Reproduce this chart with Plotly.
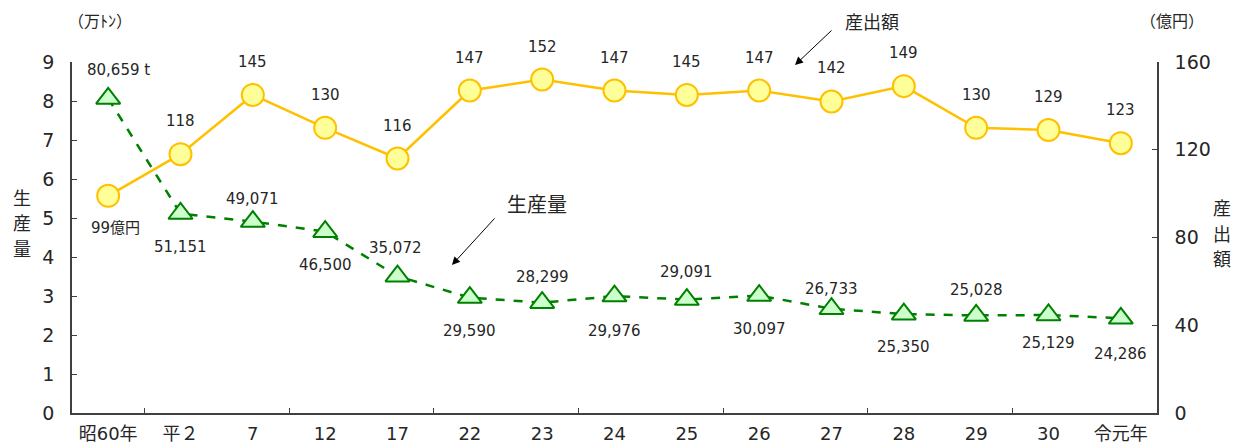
import plotly.graph_objects as go

categories = ["昭60年", "平２", "7", "12", "17", "22", "23", "24", "25", "26", "27", "28", "29", "30", "令元年"]
production_t = [80659, 51151, 49071, 46500, 35072, 29590, 28299, 29976, 29091, 30097, 26733, 25350, 25028, 25129, 24286]
output_oku = [99, 118, 145, 130, 116, 147, 152, 147, 145, 147, 142, 149, 130, 129, 123]
prod_labels = ["80,659 t", "51,151", "49,071", "46,500", "35,072", "29,590", "28,299", "29,976",
               "29,091", "30,097", "26,733", "25,350", "25,028", "25,129", "24,286"]
out_labels = ["99億円"] + [str(v) for v in output_oku[1:]]
left_title = "生産量"
right_title = "産出額"
# label offsets (pixels) for production labels: + above, - below
prod_shift = [28, -33, 23, -33, 28, -33, 26, -35, 28, -33, 20, -33, 25, -28, -36]
prod_xshift = [10, 0, 0, 0, -2, 0, 0, 0, 0, 0, 0, 0, 0, 0, 0]
out_shift = [-32] + [33] * 14
out_xshift = [7] + [0] * 14

FONT = "DejaVu Sans, Noto Sans CJK JP"
CJK = "Noto Sans CJK JP"
TXT = "#262626"
AX = "#404040"

x = list(range(len(categories)))
prod_man = [v / 10000 for v in production_t]

fig = go.Figure()
fig.add_trace(go.Scatter(
    x=x, y=prod_man, mode="lines+markers", xaxis="x", yaxis="y",
    line=dict(color="#008000", width=2.5, dash="dash"),
    marker=dict(symbol="triangle-up", size=21, color="#CCFFCC", line=dict(color="#008000", width=2)),
    showlegend=False, hoverinfo="skip"))
fig.add_trace(go.Scatter(
    x=x, y=output_oku, mode="lines+markers", xaxis="x", yaxis="y2",
    line=dict(color="#FFC000", width=2.5),
    marker=dict(symbol="circle", size=22, color="#FFFF99", line=dict(color="#FFC000", width=2)),
    showlegend=False, hoverinfo="skip"))
# invisible trace to host the boundary tick axis
fig.add_trace(go.Scatter(x=[0], y=[0], xaxis="x2", yaxis="y", mode="markers",
                         marker=dict(opacity=0), showlegend=False, hoverinfo="skip"))

ann = []
for i in x:
    ann.append(dict(x=i, y=prod_man[i], xref="x", yref="y", text=prod_labels[i], showarrow=False,
                    yshift=prod_shift[i], xshift=prod_xshift[i], font=dict(size=15, color=TXT, family=FONT)))
    ann.append(dict(x=i, y=output_oku[i], xref="x", yref="y2", text=out_labels[i], showarrow=False,
                    yshift=out_shift[i], xshift=out_xshift[i], font=dict(size=15, color=TXT, family=FONT)))


def ptxt(xf, yf, text, size, yshift=0):
    return dict(xref="paper", yref="paper", x=xf, y=yf, text=text, showarrow=False, yshift=yshift,
                xanchor="center", yanchor="middle", font=dict(size=size, color=TXT, family=CJK))


def parrow(xf, yf, ax, ay):
    return dict(xref="paper", yref="paper", x=xf, y=yf, text="", showarrow=True,
                xanchor="center", yanchor="middle", borderpad=0, font=dict(size=1),
                ax=ax, ay=ay, arrowhead=2, arrowsize=1.6, arrowwidth=1, arrowcolor="#000")


ann += [
    ptxt(0.0258, 1.1197, "（万ﾄﾝ）", 16),
    ptxt(1.0138, 1.1197, "（億円）", 16),
    ptxt(0.7373, 1.1168, "産出額", 18),
    parrow(0.6664, 0.9915, 37, -35),
    ptxt(0.4286, 0.598, "生産量", 20),
    parrow(0.3502, 0.4217, 43, -47),
]
for k, ch in enumerate(left_title):
    ann.append(ptxt(-0.0461, 0.544, ch, 18, yshift=(1 - k) * 25.5))
for k, ch in enumerate(right_title):
    ann.append(ptxt(1.0599, 0.513, ch, 18, yshift=(1 - k) * 25.5))

# the page body adds an 8px offset, so the figure is 8px smaller and margins compensate
fig.update_layout(
    width=1235, height=440,
    margin=dict(l=64, r=86, t=54, b=35),
    paper_bgcolor="white", plot_bgcolor="white",
    font=dict(family=FONT, color=TXT),
    annotations=ann,
    xaxis=dict(range=[-0.5, len(categories) - 0.5], tickvals=x, ticktext=categories, ticks="",
               showgrid=False, zeroline=False, showline=True, linecolor=AX, linewidth=1.5,
               tickfont=dict(size=18, color=TXT, family=FONT), ticklabelstandoff=4,
               automargin=False),
    xaxis2=dict(range=[-0.5, len(categories) - 0.5], overlaying="x", anchor="y",
                tickvals=[i + 0.5 for i in range(0, len(categories) - 1, 2)],
                showticklabels=False, ticks="inside", ticklen=5, tickcolor=AX, tickwidth=1,
                showgrid=False, zeroline=False, showline=False, automargin=False),
    yaxis=dict(range=[0, 9], dtick=1, ticks="inside", ticklen=5, tickcolor=AX,
               showgrid=False, zeroline=False, showline=True, linecolor=AX, linewidth=1.5,
               tickfont=dict(size=19, color=TXT, family=FONT), ticklabelstandoff=12,
               automargin=False),
    yaxis2=dict(range=[0, 160], dtick=40, overlaying="y", side="right", anchor="x",
                ticks="inside", ticklen=5, tickcolor=AX,
                showgrid=False, zeroline=False, showline=True, linecolor=AX, linewidth=1.5,
                tickfont=dict(size=19, color=TXT, family=FONT), ticklabelstandoff=12,
                automargin=False),
)

fig.write_html("out.html")
